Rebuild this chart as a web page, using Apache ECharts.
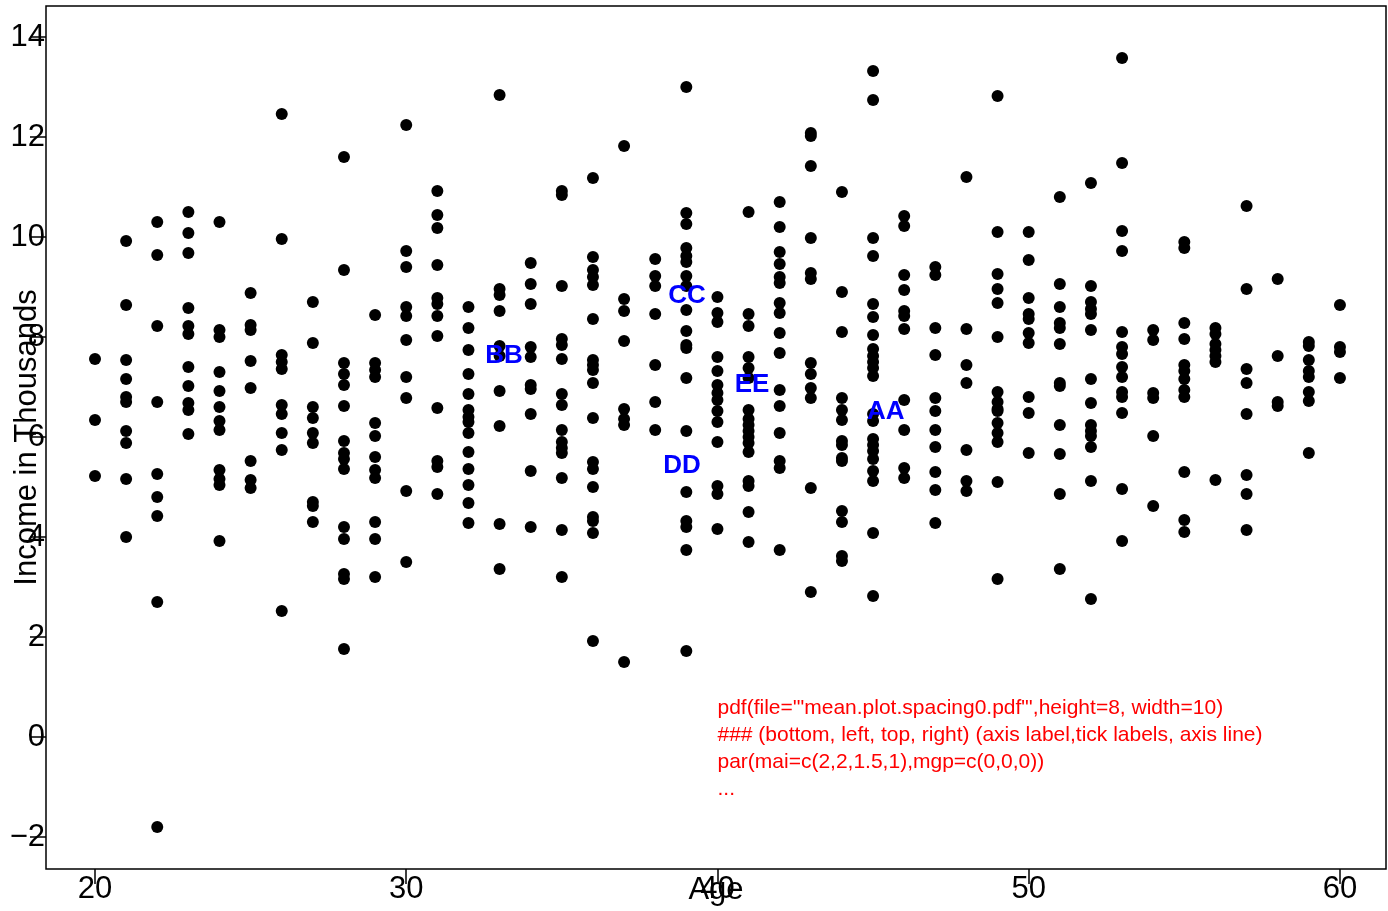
<!DOCTYPE html>
<html>
<head>
<meta charset="utf-8">
<script src="https://cdn.jsdelivr.net/npm/echarts@6/dist/echarts.min.js"></script>
<style>
  html, body { margin: 0; padding: 0; background: #fff; }
  #chart { width: 1388px; height: 911px; }
</style>
</head>
<body>
<div id="chart"></div>
<script>
// ---- data ----
const ages = [20,21,22,23,24,25,26,27,28,29,30,31,32,33,34,35,36,37,38,39,40,41,42,43,44,45,46,47,48,49,50,51,52,53,54,55,56,57,58,59,60];
const incomeByAge = [
  [7.56, 6.34, 5.22],
  [9.92, 8.64, 7.54, 7.16, 6.80, 6.70, 6.12, 5.88, 5.16, 4.00],
  [10.30, 9.64, 8.22, 6.70, 5.26, 4.80, 4.42, 2.70, -1.80],
  [10.50, 10.08, 9.68, 8.58, 8.22, 8.06, 7.40, 7.02, 6.68, 6.54, 6.06],
  [10.30, 8.14, 8.00, 7.30, 6.92, 6.60, 6.32, 6.14, 5.34, 5.16, 5.04, 3.92],
  [8.88, 8.24, 8.14, 7.52, 6.98, 5.52, 5.14, 4.98],
  [12.46, 9.96, 7.64, 7.50, 7.36, 6.64, 6.46, 6.08, 5.74, 2.52],
  [8.70, 7.88, 6.60, 6.38, 6.08, 5.88, 4.70, 4.62, 4.30],
  [11.60, 9.34, 7.48, 7.26, 7.04, 6.62, 5.92, 5.68, 5.56, 5.36, 4.20, 3.96, 3.26, 3.16, 1.76],
  [8.44, 7.48, 7.34, 7.20, 6.28, 6.02, 5.60, 5.34, 5.18, 4.30, 3.96, 3.20],
  [12.24, 9.72, 9.40, 8.60, 8.42, 7.94, 7.20, 6.78, 4.92, 3.50],
  [10.92, 10.44, 10.18, 9.44, 8.78, 8.66, 8.42, 8.02, 6.58, 5.52, 5.40, 4.86],
  [8.60, 8.18, 7.74, 7.26, 6.86, 6.54, 6.40, 6.30, 6.08, 5.70, 5.36, 5.04, 4.68, 4.28],
  [12.84, 8.96, 8.84, 8.52, 7.82, 7.62, 6.92, 6.22, 4.26, 3.36],
  [9.48, 9.06, 8.66, 7.80, 7.60, 7.04, 6.96, 6.46, 5.32, 4.20],
  [10.92, 10.84, 9.02, 7.96, 7.84, 7.56, 6.86, 6.64, 6.14, 5.90, 5.78, 5.68, 5.18, 4.14, 3.20],
  [11.18, 9.60, 9.34, 9.20, 9.04, 8.36, 7.54, 7.44, 7.34, 7.08, 6.38, 5.50, 5.36, 5.00, 4.40, 4.32, 4.08, 1.92],
  [11.82, 8.76, 8.52, 7.92, 6.56, 6.36, 6.24, 1.50],
  [9.56, 9.22, 9.02, 8.46, 7.44, 6.70, 6.14],
  [13.00, 10.48, 10.26, 9.78, 9.62, 9.50, 9.22, 9.02, 8.54, 8.12, 7.84, 7.78, 7.18, 6.12, 4.90, 4.32, 4.20, 3.74, 1.72],
  [8.80, 8.48, 8.30, 7.60, 7.32, 7.04, 6.88, 6.74, 6.52, 6.30, 5.90, 5.02, 4.86, 4.16],
  [10.50, 8.46, 8.22, 7.60, 7.38, 7.18, 6.54, 6.36, 6.24, 6.12, 6.00, 5.88, 5.70, 5.12, 5.02, 4.50, 3.90],
  [10.70, 10.20, 9.70, 9.46, 9.20, 9.08, 8.68, 8.48, 8.08, 7.68, 6.94, 6.62, 6.08, 5.52, 5.38, 3.74],
  [12.08, 12.02, 11.42, 9.98, 9.28, 9.16, 7.48, 7.26, 6.98, 6.78, 4.98, 2.90],
  [10.90, 8.90, 8.10, 6.78, 6.54, 6.34, 5.92, 5.84, 5.58, 5.52, 4.52, 4.30, 3.62, 3.52],
  [13.32, 12.74, 9.98, 9.62, 8.66, 8.40, 8.04, 7.76, 7.62, 7.50, 7.38, 7.22, 6.46, 6.32, 5.96, 5.84, 5.72, 5.56, 5.32, 5.12, 4.08, 2.82],
  [10.42, 10.22, 9.24, 8.94, 8.52, 8.42, 8.16, 6.74, 6.14, 5.38, 5.18],
  [9.40, 9.24, 8.18, 7.64, 6.78, 6.52, 6.14, 5.80, 5.30, 4.94, 4.28],
  [11.20, 8.16, 7.44, 7.08, 5.74, 5.12, 4.92],
  [12.82, 10.10, 9.26, 8.96, 8.68, 8.00, 6.90, 6.70, 6.56, 6.52, 6.28, 6.08, 5.90, 5.10, 3.16],
  [10.10, 9.54, 8.78, 8.46, 8.36, 8.08, 7.88, 6.80, 6.48, 5.68],
  [10.80, 9.06, 8.60, 8.28, 8.18, 7.86, 7.08, 7.02, 6.24, 5.66, 4.86, 3.36],
  [11.08, 9.02, 8.70, 8.56, 8.46, 8.14, 7.16, 6.68, 6.24, 6.12, 6.02, 5.80, 5.12, 2.76],
  [13.58, 11.48, 10.12, 9.72, 8.10, 7.80, 7.66, 7.40, 7.20, 6.90, 6.80, 6.48, 4.96, 3.92],
  [8.14, 7.94, 6.88, 6.78, 6.02, 4.62],
  [9.90, 9.78, 8.28, 7.96, 7.44, 7.32, 7.16, 6.94, 6.80, 5.30, 4.34, 4.10],
  [8.18, 8.06, 7.86, 7.74, 7.62, 7.50, 5.14],
  [10.62, 8.96, 7.36, 7.08, 6.46, 5.24, 4.86, 4.14],
  [9.16, 7.62, 6.70, 6.62],
  [7.90, 7.82, 7.54, 7.32, 7.20, 6.90, 6.72, 5.68],
  [8.64, 7.80, 7.70, 7.18]
];
const groupNames = ['BB', 'CC', 'DD', 'EE', 'AA'];
const groupX = [33.14, 39.02, 38.86, 41.11, 45.41];
const groupY = [7.62, 8.82, 5.42, 7.04, 6.50];
const noteLines = [
  'pdf(file=\'"mean.plot.spacing0.pdf"\',height=8, width=10)',
  '### (bottom, left, top, right) (axis label,tick labels, axis line)',
  'par(mai=c(2,2,1.5,1),mgp=c(0,0,0))',
  '...'
];
const noteX = 40;
const noteY = [0.58, 0.04, -0.50, -1.04];
const xTicks = [20, 30, 40, 50, 60];
const yTicks = [-2, 0, 2, 4, 6, 8, 10, 12, 14];

// ---- build ----
const points = [];
ages.forEach((a, i) => incomeByAge[i].forEach(v => points.push([a, v])));
const groupData = groupNames.map((n, i) => ({ value: [groupX[i], groupY[i]], name: n }));
const noteData = noteLines.map((t, i) => ({ value: [noteX, noteY[i]], name: t }));

const FONT = '"Liberation Sans", Arial, Helvetica, sans-serif';
const fmt = v => (v < 0 ? '\u2212' + Math.abs(v) : String(v));

const chart = echarts.init(document.getElementById('chart'), null, { renderer: 'canvas' });
chart.setOption({
  animation: false,
  backgroundColor: '#ffffff',
  textStyle: { fontFamily: FONT },
  grid: { left: 46, top: 6, width: 1340, height: 863, show: true, borderColor: '#000', borderWidth: 1.5, backgroundColor: 'transparent', containLabel: false, outerBoundsMode: 'none' },
  xAxis: {
    type: 'value', min: 18.426, max: 61.48,
    splitLine: { show: false },
    axisLine: { show: false, onZero: false },
    axisTick: { show: true, length: 15, customValues: xTicks, lineStyle: { color: '#000', width: 1.5 } },
    axisLabel: { customValues: xTicks, fontSize: 31, color: '#000', fontFamily: FONT, margin: 20, verticalAlign: 'middle', formatter: fmt, hideOverlap: false },
    name: 'Age', nameLocation: 'middle', nameGap: 21, nameMoveOverlap: false,
    nameTextStyle: { fontSize: 31, color: '#000', fontFamily: FONT, verticalAlign: 'middle' }
  },
  yAxis: {
    type: 'value', min: -2.64, max: 14.62,
    splitLine: { show: false },
    axisLine: { show: false, onZero: false },
    axisTick: { show: true, length: 16, customValues: yTicks, lineStyle: { color: '#000', width: 1.5 } },
    axisLabel: { customValues: yTicks, fontSize: 31, color: '#000', fontFamily: FONT, margin: 1, align: 'right', verticalAlign: 'middle', formatter: fmt, hideOverlap: false },
    name: 'Income in Thousands', nameLocation: 'middle', nameRotate: 90, nameGap: 19, nameMoveOverlap: false,
    nameTextStyle: { fontSize: 31, color: '#000', fontFamily: FONT, verticalAlign: 'middle' }
  },
  series: [
    {
      type: 'scatter', data: points, symbol: 'circle', symbolSize: 12,
      itemStyle: { color: '#000', opacity: 1 }, silent: true, z: 2
    },
    {
      type: 'scatter', data: groupData, symbolSize: 0, silent: true, z: 3,
      itemStyle: { opacity: 1 },
      label: { show: true, position: 'inside', formatter: p => p.name, color: '#0000ff', fontSize: 26, fontWeight: 'bold', fontFamily: FONT }
    },
    {
      type: 'scatter', data: noteData, symbolSize: 0, silent: true, z: 3,
      itemStyle: { opacity: 1 },
      label: { show: true, position: 'right', distance: 0, formatter: p => p.name, color: '#ff0000', fontSize: 21, fontFamily: FONT, align: 'left', verticalAlign: 'middle' }
    }
  ]
});
</script>
</body>
</html>
